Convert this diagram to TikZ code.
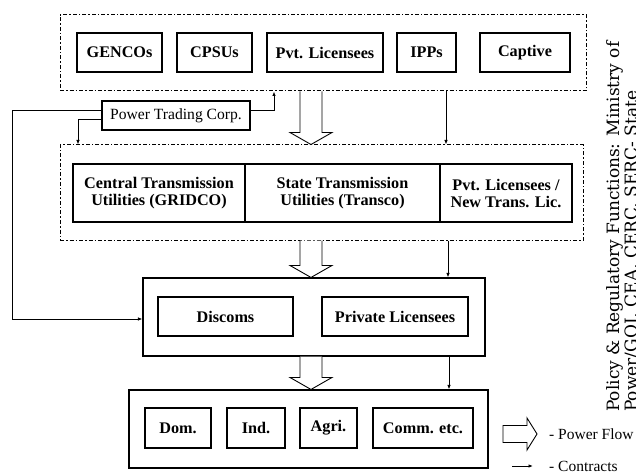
\documentclass[tikz,border=0pt]{standalone}
\usepackage{fontspec}
\setmainfont{Liberation Serif}
\newfontfamily\rotfont{DejaVu Serif}
\usetikzlibrary{arrows.meta,calc}
\tikzset{
  box/.style={draw, line width=1.1pt, inner sep=0pt, font=\bfseries\fontsize{16.2}{17}\selectfont, align=center},
  grp/.style={draw, line width=1pt, dash pattern=on 4pt off 2pt on 1.5pt off 2pt, inner sep=0pt},
  solidgrp/.style={draw, line width=1.1pt, inner sep=0pt},
  ctr/.style={line width=0.9pt, -{Latex[length=4.5pt,width=3.5pt]}},
  pflow/.style={draw, line width=0.9pt, fill=white, line join=miter},
  plain/.style={font=\fontsize{15.5}{16}\selectfont, inner sep=0pt}
}
\newcommand\pflowarrow[2]{%
  \draw[pflow] ($(#1)+(-11,0)$) -- ($(#2)+(-11,-12)$) -- ($(#2)+(-21,-12)$) -- (#2)
     -- ($(#2)+(21,-12)$) -- ($(#2)+(11,-12)$) -- ($(#1)+(11,0)$);}
\begin{document}
\begin{tikzpicture}[x=1pt,y=-1pt]
\useasboundingbox (0,0) rectangle (636,473);
\clip (0,0) rectangle (636,473);
\fill[white] (0,0) rectangle (636,473);

% top group
\node[grp, minimum width=526pt, minimum height=76pt] (topgrp) at (323,53) {};
\node[box, minimum width=85pt, minimum height=39pt] (gencos) at (119.5,52.5) {GENCOs};
\node[box, minimum width=75pt, minimum height=39pt] (cpsus) at (214.5,52.5) {CPSUs};
\node[box, minimum width=116pt, minimum height=39pt] (pvt) at (325,52.5) {Pvt. Licensees};
\node[box, minimum width=59pt, minimum height=39pt] (ipps) at (426.5,52.5) {IPPs};
\node[box, minimum width=90pt, minimum height=39pt] (captive) at (525,52.5) {Captive};

% power trading corp
\node[box, font=\fontsize{15.6}{16}\selectfont, minimum width=148pt, minimum height=29pt] (ptc) at (176,115.5) {Power Trading Corp.};

% transmission group
\node[grp, minimum width=523pt, minimum height=95pt] (tgroup) at (321.5,192.5) {};
\node[box, minimum width=172pt, minimum height=58pt] (central) at (159,193) {Central Transmission\\Utilities (GRIDCO)};
\node[box, minimum width=195pt, minimum height=58pt] (state) at (342.5,193) {State Transmission\\Utilities (Transco)};
\node[box, minimum width=132pt, minimum height=58pt] (pvtl) at (506,193) {Pvt. Licensees /\\New Trans. Lic.};

% distribution
\node[solidgrp, minimum width=342pt, minimum height=78pt] (disbox) at (314,317) {};
\node[box, minimum width=135pt, minimum height=39pt] (discoms) at (225.5,316.5) {Discoms};
\node[box, minimum width=146pt, minimum height=39pt] (privlic) at (395,316.5) {Private Licensees};

% consumers
\node[solidgrp, minimum width=359pt, minimum height=78pt] (conbox) at (308.5,429) {};
\node[box, minimum width=66pt, minimum height=40pt] (dom) at (178,428) {Dom.};
\node[box, minimum width=58pt, minimum height=40pt] (ind) at (256,428) {Ind.};
\node[box, minimum width=57pt, minimum height=40pt] (agri) at (328.5,428) {Agri.};
\node[box, minimum width=100pt, minimum height=40pt] (comm) at (423,428) {Comm. etc.};

% power flow arrows
\coordinate (f) at (311,0);
\pflowarrow{f |- topgrp.south}{f |- tgroup.north}
\pflowarrow{f |- tgroup.south}{f |- disbox.north}
\pflowarrow{f |- disbox.south}{f |- conbox.north}

% contracts
\coordinate (c1) at (446,0);
\coordinate (c2) at (448,0);
\coordinate (c3) at (449,0);
\draw[ctr] (c1 |- topgrp.south) -- (c1 |- tgroup.north);
\draw[ctr] (c2 |- tgroup.south) -- (c2 |- disbox.north);
\draw[ctr] (c3 |- disbox.south) -- (c3 |- conbox.north);

\coordinate (l1) at (12,110);
\coordinate (l2) at (12,319);
\draw[ctr] (ptc.west |- l1) -- (l1) -- (l2) -- (disbox.west |- l2);
\coordinate (l3) at (78,119);
\draw[ctr] (ptc.west |- l3) -| (l3 |- tgroup.north);
\coordinate (r1) at (274,110);
\draw[ctr] (ptc.east |- r1) -| (r1 |- topgrp.south);

% legend
\node[plain, anchor=west] (lpf) at (549,434) {- Power Flow};
\node[plain, anchor=west] (lct) at (549,466) {- Contracts};
\draw[pflow] (503,425.5) -- (527,425.5) -- (527,418) -- (537,434) -- (527,450) -- (527,442.5) -- (503,442.5) -- cycle;
\coordinate (la) at (512,466);
\draw[ctr] (la) -- ($(lct.west)+(-16,0)$);

% side text
\node[rotate=90, anchor=north west, align=left, inner sep=0pt,
      font=\rotfont\fontsize{17}{18}\selectfont] (pol) at (606,412)
  {Policy \& Regulatory Functions: Ministry of\\Power/GOI, CEA, CERC, SERC- State};
\end{tikzpicture}
\end{document}
